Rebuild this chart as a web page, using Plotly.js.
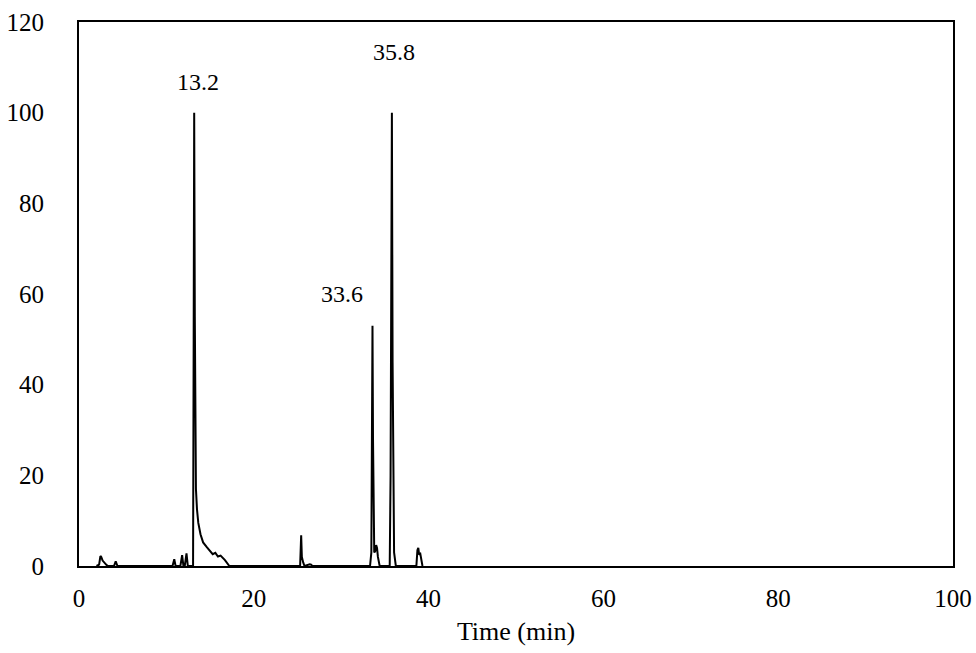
<!DOCTYPE html>
<html>
<head>
<meta charset="utf-8">
<script src="https://cdn.plot.ly/plotly-3.0.1.min.js"></script>
<style>html,body{margin:0;padding:0;background:#fff;}#chart{width:976px;height:653px;}</style>
</head>
<body>
<div id="chart"></div>
<script>
// Chromatogram trace
const timeMin = [2.0, 2.3, 2.45, 2.55, 2.7, 2.9, 3.1, 3.3, 4.0, 4.2, 4.4,
  10.7, 10.9, 11.05, 11.6, 11.8, 11.95, 12.1, 12.3, 12.45,
  13.05, 13.12, 13.18, 13.25, 13.3, 13.38, 13.5, 13.65, 13.9, 14.2, 14.6, 15.0, 15.3, 15.6, 15.9, 16.2, 16.7, 17.2,
  25.3, 25.42, 25.5, 25.65, 25.8, 26.4, 26.55, 26.7,
  33.3, 33.45, 33.52, 33.58, 33.64, 33.7, 33.78, 33.88, 34.0, 34.1, 34.2, 34.4,
  35.55, 35.65, 35.72, 35.8, 35.88, 35.95, 36.05, 36.25,
  38.6, 38.72, 38.82, 38.92, 39.05, 39.3];
const signal = [0, 0.3, 2.2, 2.0, 1.2, 0.6, 0.3, 0, 0, 1.0, 0,
  0, 1.5, 0, 0, 2.4, 0, 0, 2.8, 0,
  0, 50, 100, 55, 30, 17, 12.5, 9.5, 7.0, 5.2, 4.2, 3.2, 2.6, 2.9, 2.1, 2.3, 1.3, 0,
  0, 6.8, 2.0, 0.8, 0, 0.4, 0.3, 0,
  0, 3, 28, 53, 28, 8, 3, 3.2, 4.6, 4.0, 2.0, 0,
  0, 20, 45, 100, 45, 20, 3, 0,
  0, 3.5, 4.0, 2.5, 2.7, 0];
const peakLabels = ["13.2", "33.6", "35.8"];
const peakLabelX = [13.65, 30.1, 36.0];
const peakLabelY = [106.8, 60.0, 113.4];
const xTicks = [0, 20, 40, 60, 80, 100];
const yTicks = [0, 20, 40, 60, 80, 100, 120];

const font = {family: '"Liberation Serif", "Times New Roman", serif', color: '#000'};

Plotly.newPlot('chart', [{
  x: timeMin, y: signal, type: 'scatter', mode: 'lines',
  line: {color: '#000', width: 2}, hoverinfo: 'none'
}], {
  width: 976, height: 653,
  margin: {l: 79, r: 23, t: 22, b: 87},
  paper_bgcolor: '#fff', plot_bgcolor: '#fff',
  showlegend: false,
  font: Object.assign({size: 25}, font),
  xaxis: {
    range: [0, 100], tickvals: xTicks, ticktext: xTicks.map(String),
    showgrid: false, zeroline: false, showline: true, mirror: true,
    linecolor: '#000', linewidth: 2,
    ticks: 'outside', ticklen: 9, tickcolor: 'rgba(0,0,0,0)',
    tickfont: Object.assign({size: 25}, font),
    title: {text: 'Time (min)', font: Object.assign({size: 26}, font), standoff: 11}
  },
  yaxis: {
    range: [0, 120], tickvals: yTicks, ticktext: yTicks.map(String),
    showgrid: false, zeroline: false, showline: true, mirror: true,
    linecolor: '#000', linewidth: 2,
    ticks: 'outside', ticklen: 28, tickcolor: 'rgba(0,0,0,0)',
    tickfont: Object.assign({size: 25}, font)
  },
  annotations: peakLabels.map((t, i) => ({
    x: peakLabelX[i], y: peakLabelY[i], xref: 'x', yref: 'y',
    text: t, showarrow: false, font: Object.assign({size: 24}, font)
  }))
}, {displayModeBar: false, staticPlot: true});
</script>
</body>
</html>
